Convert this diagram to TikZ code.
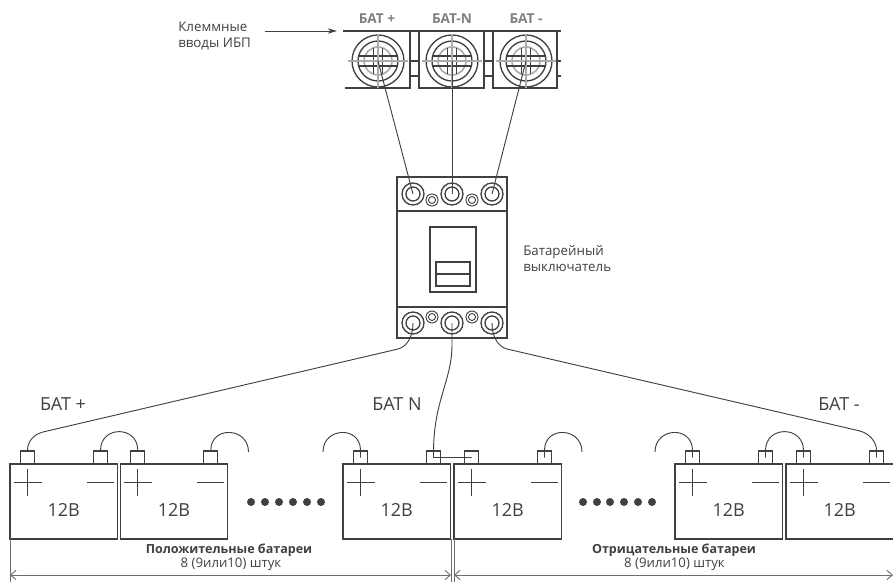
\documentclass[tikz,border=0pt]{standalone}
\usepackage{fontspec}
\setmainfont{Open Sans}
\usetikzlibrary{arrows.meta}
\definecolor{ink}{HTML}{404040}
\definecolor{soft}{HTML}{6E6E6E}
\definecolor{labelgrey}{HTML}{808080}
\definecolor{cross}{HTML}{ABABAB}
\tikzset{
  thin line/.style={draw=ink,line width=0.7pt},
  case line/.style={draw=ink,line width=1pt},
  bar line/.style={draw=ink,line width=1.5pt},
  dim line/.style={draw=soft,line width=0.7pt},
  battery/.style={draw=ink,line width=1pt,minimum width=80.6pt,minimum height=56.2pt,inner sep=0pt},
  post/.style={draw=ink,line width=0.9pt,minimum width=10.5pt,minimum height=9.8pt,inner sep=0pt},
  volts/.style={text=ink,font=\fontsize{13.5}{13.5}\selectfont,inner sep=0pt},
  note/.style={text=ink,font=\fontsize{10}{12}\selectfont,inner sep=0pt,align=left,anchor=west},
  toplabel/.style={text=labelgrey,font=\fontsize{10.2}{10.2}\selectfont\bfseries,inner sep=0pt},
  batlabel/.style={text=ink,font=\fontsize{13.5}{13.5}\selectfont,inner sep=0pt},
  sumbold/.style={text=ink,font=\fontsize{9.4}{9.4}\selectfont\bfseries,inner sep=0pt},
  sumtext/.style={text=ink,font=\fontsize{9.9}{9.9}\selectfont,inner sep=0pt},
  dotmark/.style={fill=ink,circle,minimum size=6pt,inner sep=0pt},
}
\begin{document}
\begin{tikzpicture}[x=0.75pt,y=-0.75pt]
\useasboundingbox (0,0) rectangle (893,582);
% input terminals
\node[toplabel] (labelp) at (377,19) {БАТ +};
\node[toplabel] (labeln) at (452,19) {БАТ-N};
\node[toplabel] (labelm) at (526,19) {БАТ -};
\node[note] (inputs) at (178,36) {Клеммные\\вводы ИБП};
\coordinate (inputs end) at (265,31);
\coordinate (block top) at (337,31);
\draw[thin line,-{Stealth[length=7pt,width=4pt]}] (inputs end) -- (block top);
\draw[bar line] (343,31) -- (561,31);
\draw[bar line] (345,88) -- (410,88) -- (410,31);
\draw[bar line] (419,31) -- (419,88) -- (484,88) -- (484,31);
\draw[bar line] (493,31) -- (493,88) -- (557,88) -- (557,31);
\draw[bar line] (410,61) -- (419,61);
\draw[bar line] (410,76) -- (419,76);
\draw[bar line] (484,61) -- (493,61);
\draw[bar line] (484,76) -- (493,76);
\draw[bar line] (557,61) -- (561,61);
\draw[bar line] (557,76) -- (561,76);
\coordinate (inp) at (378,61);
\coordinate (inn) at (452,61);
\coordinate (inm) at (526,61);
\draw[case line] (inp) circle (26) (inp) circle (20);
\draw[case line] (inn) circle (26) (inn) circle (20);
\draw[case line] (inm) circle (26) (inm) circle (20);
\draw[cross,line width=1.2pt] (inp) circle (14);
\draw[cross,line width=1.2pt] (inn) circle (14);
\draw[cross,line width=1.2pt] (inm) circle (14);
\draw[case line] (358,56) -- (398,56) (358,66) -- (398,66) (373.5,48) -- (373.5,74) (382.5,48) -- (382.5,74);
\draw[case line] (432,56) -- (472,56) (432,66) -- (472,66) (447.5,48) -- (447.5,74) (456.5,48) -- (456.5,74);
\draw[case line] (506,56) -- (546,56) (506,66) -- (546,66) (521.5,48) -- (521.5,74) (530.5,48) -- (530.5,74);
\draw[cross,line width=1pt] (348,61) -- (408,61) (378,34) -- (378,88);
\draw[cross,line width=1pt] (422,61) -- (482,61) (452,34) -- (452,88);
\draw[cross,line width=1pt] (496,61) -- (556,61) (526,34) -- (526,88);
% breaker
\draw[case line] (397,177) rectangle (507,338);
\draw[bar line] (397,211) -- (507,211);
\draw[bar line] (397,307) -- (507,307);
\draw[case line] (430,227) rectangle (476,292);
\draw[case line] (436,262) rectangle (470,286);
\draw[bar line] (436,274) -- (470,274);
\node[note] (breaker) at (523,259) {Батарейный\\выключатель};
\coordinate (cbtp) at (413,194);
\coordinate (cbtn) at (452,194);
\coordinate (cbtm) at (492,194);
\coordinate (cbbp) at (413,323);
\coordinate (cbbn) at (452,323);
\coordinate (cbbm) at (492,323);
\draw[case line] (cbtp) circle (11) (cbtp) circle (7);
\draw[case line] (cbtn) circle (11) (cbtn) circle (7);
\draw[case line] (cbtm) circle (11) (cbtm) circle (7);
\draw[case line] (cbbp) circle (11) (cbbp) circle (7);
\draw[case line] (cbbn) circle (11) (cbbn) circle (7);
\draw[case line] (cbbm) circle (11) (cbbm) circle (7);
\draw[thin line] (432,200) circle (6) (432,200) circle (3.5);
\draw[thin line] (472,200) circle (6) (472,200) circle (3.5);
\draw[thin line] (432,317) circle (6) (432,317) circle (3.5);
\draw[thin line] (472,317) circle (6) (472,317) circle (3.5);
\draw[thin line] (inp) -- (cbtp);
\draw[thin line] (inn) -- (cbtn);
\draw[thin line] (inm) -- (cbtm);
% batteries
\node[battery] (bat1) at (63.75,501.5) {};
\node[battery] (bat2) at (174,501.5) {};
\node[battery] (bat3) at (396.75,501.5) {};
\node[battery] (bat4) at (507.75,501.5) {};
\node[battery] (bat5) at (728.75,501.5) {};
\node[battery] (bat6) at (839.75,501.5) {};
\node[volts] (volt1) at (63.75,510) {12В};
\node[volts] (volt2) at (174,510) {12В};
\node[volts] (volt3) at (396.75,510) {12В};
\node[volts] (volt4) at (507.75,510) {12В};
\node[volts] (volt5) at (728.75,510) {12В};
\node[volts] (volt6) at (839.75,510) {12В};
\node[post] (p1) at (27.5,457.5) {};
\node[post] (m1) at (100.5,457.5) {};
\node[post] (p2) at (137.8,457.5) {};
\node[post] (m2) at (210.8,457.5) {};
\node[post] (p3) at (360.5,457.5) {};
\node[post] (m3) at (433.5,457.5) {};
\node[post] (p4) at (471.5,457.5) {};
\node[post] (m4) at (544.5,457.5) {};
\node[post] (p5) at (692.5,457.5) {};
\node[post] (m5) at (765.5,457.5) {};
\node[post] (p6) at (803.5,457.5) {};
\node[post] (m6) at (876.5,457.5) {};
\draw[thin line] (14,482) -- (41.5,482) (27.5,469) -- (27.5,496) (87,482) -- (114,482);
\draw[thin line] (124.3,482) -- (151.8,482) (137.8,469) -- (137.8,496) (197.3,482) -- (224.3,482);
\draw[thin line] (347,482) -- (374.5,482) (360.5,469) -- (360.5,496) (420,482) -- (447,482);
\draw[thin line] (458,482) -- (485.5,482) (471.5,469) -- (471.5,496) (531,482) -- (558,482);
\draw[thin line] (679,482) -- (706.5,482) (692.5,469) -- (692.5,496) (752,482) -- (779,482);
\draw[thin line] (790,482) -- (817.5,482) (803.5,469) -- (803.5,496) (863,482) -- (890,482);
% wires between batteries
\coordinate (free2) at (248.5,452);
\coordinate (free3) at (323,452);
\coordinate (free4) at (582,452);
\coordinate (free5) at (655,452);
\draw[thin line] (m1.north) .. controls +(0,-25) and +(0,-25) .. (p2.north);
\draw[thin line] (m2.north) .. controls +(0,-25) and +(0,-25) .. (free2);
\draw[thin line] (p3.center) -- (p3.north) .. controls +(0,-25) and +(0,-25) .. (free3);
\draw[thin line] (m4.center) -- (m4.north) .. controls +(0,-25) and +(0,-25) .. (free4);
\draw[thin line] (p5.center) -- (p5.north) .. controls +(0,-25) and +(0,-25) .. (free5);
\draw[thin line] (m5.center) -- (m5.north) .. controls +(0,-25) and +(0,-25) .. (p6.north) -- (p6.center);
\draw[thin line] (cbbp) .. controls (413,338) and (406,347) .. (398,349) -- (43,432) .. controls (33,434.5) and (27.5,442) .. (p1.north);
\draw[thin line] (cbbn) -- (452,345) .. controls (452,380) and (434,400) .. (m3.north) -- (m3.center) -- (p4.center);
\draw[thin line] (cbbm) .. controls (492,338) and (499,347) .. (507,349) -- (860,431) .. controls (870,434) and (876.5,442) .. (m6.north) -- (m6.center);
% dots
\node[dotmark] (dotl1) at (251,502) {};
\node[dotmark] (dotl2) at (265,502) {};
\node[dotmark] (dotl3) at (279,502) {};
\node[dotmark] (dotl4) at (293,502) {};
\node[dotmark] (dotl5) at (307,502) {};
\node[dotmark] (dotl6) at (321,502) {};
\node[dotmark] (dotr1) at (583,502) {};
\node[dotmark] (dotr2) at (597,502) {};
\node[dotmark] (dotr3) at (610,502) {};
\node[dotmark] (dotr4) at (624,502) {};
\node[dotmark] (dotr5) at (638,502) {};
\node[dotmark] (dotr6) at (652,502) {};
% labels
\node[batlabel] (batp) at (63,404) {БАТ +};
\node[batlabel] (batn) at (397,404) {БАТ N};
\node[batlabel] (batm) at (839,404) {БАТ -};
\node[sumbold] (plus title) at (229,550) {Положительные батареи};
\node[sumtext] (plus count) at (231,564) {8 (9или10) штук};
\node[sumbold] (minus title) at (674,550) {Отрицательные батареи};
\node[sumtext] (minus count) at (674.5,564) {8 (9или10) штук};
% size lines
\coordinate (dim1) at (10,575);
\coordinate (dim2) at (451,575);
\coordinate (dim3) at (454,575);
\coordinate (dim4) at (893,575);
\draw[dim line] (10,539) -- (10,582);
\draw[dim line] (451,539) -- (451,582);
\draw[dim line] (454,539) -- (454,582);
\draw[dim line,{Straight Barb[length=4pt,width=7pt]}-{Straight Barb[length=4pt,width=7pt]}] (dim1) -- (dim2);
\draw[dim line,{Straight Barb[length=4pt,width=7pt]}-{Straight Barb[length=4pt,width=7pt]}] (dim3) -- (dim4);
\end{tikzpicture}
\end{document}
